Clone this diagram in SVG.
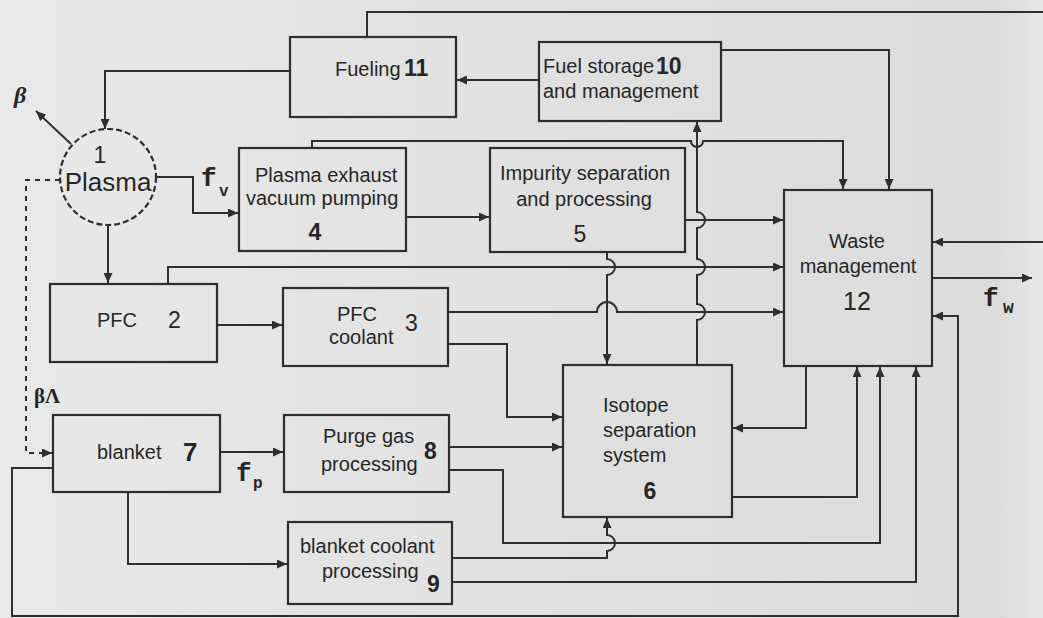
<svg xmlns="http://www.w3.org/2000/svg" width="1043" height="618" viewBox="0 0 1043 618">
<defs>
<linearGradient id="bg" x1="0" y1="0" x2="1" y2="0">
<stop offset="0" stop-color="#e9e9e9"/>
<stop offset="0.55" stop-color="#e0e0e0"/>
<stop offset="0.96" stop-color="#dcdcdc"/>
<stop offset="1" stop-color="#e8e8e8"/>
</linearGradient>
<marker id="ah" markerUnits="userSpaceOnUse" markerWidth="11" markerHeight="9" refX="10" refY="4.5" orient="auto">
<path d="M0,0 L10,4.5 L0,9 z" fill="#2e2e2e"/>
</marker>
</defs>
<style>
.box{fill:none;stroke:#2e2e2e;stroke-width:2.2}
.ln{fill:none;stroke:#2e2e2e;stroke-width:2}
.arr{marker-end:url(#ah)}
.dash{stroke-dasharray:5,5}
.t{font-family:"Liberation Sans",Arial,sans-serif;font-size:20px;fill:#262626}
.n{font-family:"Liberation Sans",Arial,sans-serif;font-size:23px;fill:#262626}
.b{font-weight:bold}
.m{font-family:"Liberation Mono","Courier New",monospace;font-weight:bold;fill:#262626}
.g{font-family:"Liberation Serif","Times New Roman",serif;font-weight:bold;font-style:italic;fill:#262626}
</style>
<rect x="0" y="0" width="1043" height="618" fill="url(#bg)"/>

<g id="node-plasma">
<circle cx="108" cy="177" r="48" class="box" stroke-dasharray="6,3"/>
<text class="n" x="100" y="163" text-anchor="middle">1</text>
<text class="t" x="108" y="191" text-anchor="middle" style="font-size:26px">Plasma</text>
</g>
<g id="node-fueling">
<rect class="box" x="290" y="37" width="166" height="80"/>
<text class="t" x="335" y="76">Fueling</text>
<text class="n b" x="404" y="76">11</text>
</g>
<g id="node-fuel-storage">
<rect class="box" x="539" y="42" width="182" height="79"/>
<text class="t" x="543" y="73">Fuel storage</text>
<text class="n b" x="656" y="74">10</text>
<text class="t" x="543" y="98">and management</text>
</g>
<g id="node-plasma-exhaust">
<rect class="box" x="239" y="148" width="167" height="103"/>
<text class="t" x="255" y="182">Plasma exhaust</text>
<text class="t" x="246" y="205">vacuum pumping</text>
<text class="n b" x="315" y="240" text-anchor="middle">4</text>
</g>
<g id="node-impurity">
<rect class="box" x="490" y="148" width="195" height="104"/>
<text class="t" x="500" y="180">Impurity separation</text>
<text class="t" x="584" y="206" text-anchor="middle">and processing</text>
<text class="n" x="580" y="242" text-anchor="middle">5</text>
</g>
<g id="node-pfc">
<rect class="box" x="50" y="284" width="167" height="78"/>
<text class="t" x="97" y="327">PFC</text>
<text class="n" x="168" y="328">2</text>
</g>
<g id="node-pfc-coolant">
<rect class="box" x="283" y="288" width="165" height="78"/>
<text class="t" x="337" y="321">PFC</text>
<text class="t" x="329" y="344">coolant</text>
<text class="n" x="405" y="331">3</text>
</g>
<g id="node-waste">
<rect class="box" x="784" y="190" width="148" height="176"/>
<text class="t" x="857" y="248" text-anchor="middle">Waste</text>
<text class="t" x="858" y="273" text-anchor="middle">management</text>
<text class="n" x="857" y="310" text-anchor="middle" style="font-size:25px">12</text>
</g>
<g id="node-isotope">
<rect class="box" x="563" y="365" width="169" height="152"/>
<text class="t" x="603" y="412">Isotope</text>
<text class="t" x="603" y="437">separation</text>
<text class="t" x="603" y="462">system</text>
<text class="n b" x="650" y="499" text-anchor="middle">6</text>
</g>
<g id="node-blanket">
<rect class="box" x="53" y="415" width="167" height="77"/>
<text class="t" x="97" y="459">blanket</text>
<text class="n b" x="183" y="461" style="font-size:26px">7</text>
</g>
<g id="node-purge">
<rect class="box" x="284" y="415" width="165" height="77"/>
<text class="t" x="323" y="443">Purge gas</text>
<text class="t" x="321" y="471">processing</text>
<text class="n b" x="424" y="459">8</text>
</g>
<g id="node-blanket-coolant">
<rect class="box" x="288" y="522" width="164" height="82"/>
<text class="t" x="300" y="553">blanket coolant</text>
<text class="t" x="322" y="578">processing</text>
<text class="n b" x="427" y="592">9</text>
</g>

<g id="connectors">
<path class="ln" d="M367,37 V12 H1043"/>
<path class="ln arr" d="M539,80 H457"/>
<path class="ln arr" d="M290,71 H105 V129"/>
<path class="ln arr" d="M721,50 H889 V189"/>
<path class="ln arr" d="M312,148 V141 H691 a6,6 0 0 0 12,0 H843 V189"/>
<path class="ln arr" d="M697,365 V320 a8,8 0 0 0 0,-16 V275 a8,8 0 0 0 0,-16 V228 a8,8 0 0 0 0,-16 V122"/>
<path class="ln arr" d="M406,217 H489"/>
<path class="ln arr" d="M685,220 H783"/>
<path class="ln arr" d="M156,177 H193 V213 H238"/>
<path class="ln arr" d="M108,225 V283"/>
<path class="ln arr" d="M217,325 H282"/>
<path class="ln arr" d="M168,284 V267 H783"/>
<path class="ln arr" d="M607,252 V259 a8,8 0 0 1 0,16 V364"/>
<path class="ln arr" d="M448,312 H597 a10,10 0 0 1 20,0 H783"/>
<path class="ln arr" d="M448,344 H507 V417 H562"/>
<path class="ln arr" d="M220,452 H283"/>
<path class="ln arr" d="M449,447 H562"/>
<path class="ln arr" d="M449,470 H503 V543 H880 V367"/>
<path class="ln arr" d="M452,558 H607 V551 a8,8 0 0 0 0,-16 V518"/>
<path class="ln arr" d="M452,582 H916 V367"/>
<path class="ln arr" d="M732,497 H857 V367"/>
<path class="ln arr" d="M806,366 V428 H733"/>
<path class="ln arr" d="M53,468 H12 V616 H958 V316 H933"/>
<path class="ln arr" d="M1043,242 H933"/>
<path class="ln arr" d="M932,278 H1032"/>
<path class="ln arr" d="M128,492 V564 H287"/>
<path class="ln arr" d="M71,144 L36,111"/>
<path class="ln arr dash" d="M60,180 H26 V453 H52"/>
</g>

<g id="labels">
<text class="g" x="14" y="103" style="font-size:24px">β</text>
<text class="g" x="34" y="403" style="font-size:21px;font-style:normal">βΛ</text>
<text class="m" x="201" y="186" style="font-size:26px">f<tspan x="219" y="196" style="font-size:16px">v</tspan></text>
<text class="m" x="236" y="481" style="font-size:26px">f<tspan x="253" y="488" style="font-size:16px">p</tspan></text>
<text class="m" x="983" y="306" style="font-size:26px">f<tspan x="1003" y="313" style="font-size:18px">w</tspan></text>
</g>
</svg>
